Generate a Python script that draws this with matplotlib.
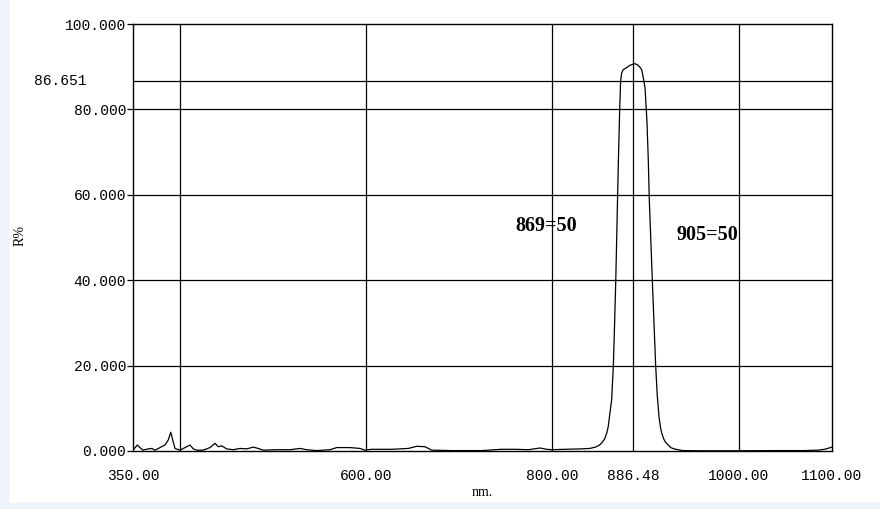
"""reflectance curve of a 886 nm band pass filter"""

import matplotlib
matplotlib.use('Agg')
import matplotlib.pyplot as plt
from matplotlib.patches import Rectangle


# wavelength (nm) and reflectance (%)
wavelength = [350.0, 354.6, 357.5, 360.7, 366.4, 370.1, 373.6, 379.0, 384.3,
              387.9, 390.5, 392.6, 395.1, 400.4, 405.8, 411.2, 414.7, 418.3,
              425.4, 432.6, 438.0, 441.5, 445.2, 450.5, 457.6, 464.8, 472.0,
              479.1, 484.4, 489.8, 504.2, 518.5, 529.2, 536.4, 547.1, 561.4,
              568.6, 582.8, 593.6, 598.9, 606.1, 627.6, 645.4, 654.4, 663.3,
              670.5, 692.0, 724.1, 745.6, 759.9, 774.1, 786.7, 793.9, 799.2,
              813.5, 831.4, 840.0, 846.0, 850.0, 853.0, 856.0, 858.3, 860.0,
              861.5, 863.6, 865.4, 866.5, 868.0, 869.0, 870.0, 870.8, 872.2,
              873.2, 874.3, 876.0, 879.7, 883.0, 886.5, 888.5, 890.8, 893.5,
              895.8, 897.5, 899.4, 901.5, 902.9, 904.0, 905.5, 907.2, 909.0,
              910.8, 912.5, 914.4, 916.0, 917.3, 919.5, 921.5, 924.4, 927.0,
              930.5, 935.0, 940.0, 960.0, 1000.0, 1040.0, 1070.0, 1085.0,
              1092.0, 1100.0]
reflectance = [0.2, 1.4, 0.8, 0.2, 0.5, 0.6, 0.2, 0.8, 1.4,
               2.6, 4.4, 2.6, 0.6, 0.2, 0.8, 1.4, 0.5, 0.2,
               0.2, 0.8, 1.8, 1.0, 1.2, 0.5, 0.3, 0.6, 0.5,
               0.9, 0.6, 0.2, 0.3, 0.3, 0.6, 0.3, 0.1, 0.3,
               0.8, 0.8, 0.6, 0.2, 0.4, 0.4, 0.6, 1.1, 1.0,
               0.2, 0.1, 0.1, 0.4, 0.4, 0.3, 0.7, 0.4, 0.3,
               0.4, 0.5, 0.6, 0.9, 1.3, 1.9, 2.8, 4.2, 5.8,
               8.5, 12.0, 20.0, 28.0, 40.0, 50.0, 60.0, 68.0, 80.0,
               86.7, 88.5, 89.3, 89.8, 90.3, 90.6, 90.7, 90.5, 90.0,
               89.3, 87.5, 85.0, 77.0, 68.0, 58.6, 50.0, 40.0, 30.0,
               20.0, 13.0, 8.0, 5.5, 4.2, 2.8, 2.0, 1.4, 0.8,
               0.5, 0.3, 0.1, 0.05, 0.05, 0.1, 0.1, 0.2,
               0.4, 0.9]

x_ticks = [350, 600, 800, 886.48, 1000, 1100]
x_tick_labels = ['350.00', '600.00', '800.00', '886.48', '1000.00', '1100.00']
y_ticks = [0, 20, 40, 60, 80, 100]
y_tick_labels = ['0.000', '20.000', '40.000', '60.000', '80.000', '100.000']

x_grid = [400, 600, 800, 886.48, 1000]
y_grid = [20, 40, 60, 80, 86.651]

peak_value = 86.651
edge_notes = [(760, 52.8, '869=50'), (933, 50.5, '905=50')]

MONO = 'Liberation Mono'
BG = '#eef2fb'


def main():
    fig = plt.figure(figsize=(8.8, 5.09), dpi=100)
    fig.patch.set_facecolor('white')
    # the light blue window border on the left and bottom
    fig.patches.append(Rectangle((0, 0), 8 / 880, 1, transform=fig.transFigure,
                                 color=BG, zorder=0))
    fig.patches.append(Rectangle((0, 0), 1, 6 / 509, transform=fig.transFigure,
                                 color=BG, zorder=0))

    ax = fig.add_axes([133 / 880, 58 / 509, 699 / 880, 427 / 509])
    ax.set_xlim(350, 1100)
    ax.set_ylim(0, 100)

    for x in x_grid:
        ax.axvline(x, color='black', lw=0.9, zorder=1)
    for y in y_grid:
        ax.axhline(y, color='black', lw=0.9, zorder=1)

    ax.plot(wavelength, reflectance, color='black', lw=0.9, zorder=2)

    for spine in ax.spines.values():
        spine.set_linewidth(1.0)
        spine.set_color('black')

    ax.set_xticks(x_ticks)
    ax.set_xticklabels(x_tick_labels, fontfamily=MONO, fontsize=10.5)
    ax.set_yticks(y_ticks)
    ax.set_yticklabels(y_tick_labels, fontfamily=MONO, fontsize=10.5)
    ax.tick_params(axis='x', length=0, pad=13)
    ax.tick_params(axis='y', length=4, width=0.9, pad=1)

    # the peak level is labelled off to the left
    ax.text(-0.141, peak_value, '%.3f' % peak_value, transform=ax.get_yaxis_transform(),
            ha='left', va='center', fontfamily=MONO, fontsize=10.5)

    for x, y, note in edge_notes:
        ax.text(x, y, note, ha='left', va='center', fontfamily='Liberation Serif',
                fontweight='bold', fontsize=14.5)

    fig.text(20 / 880, 1 - 235 / 509, 'R%', rotation=90, ha='center', va='center',
             fontfamily='Liberation Serif', fontsize=10)
    fig.text(482 / 880, 1 - 493 / 509, 'nm.', ha='center', va='center',
             fontfamily='Liberation Serif', fontsize=10)

    fig.savefig('out.png', dpi=100, facecolor=fig.get_facecolor())


if __name__ == '__main__':
    main()
